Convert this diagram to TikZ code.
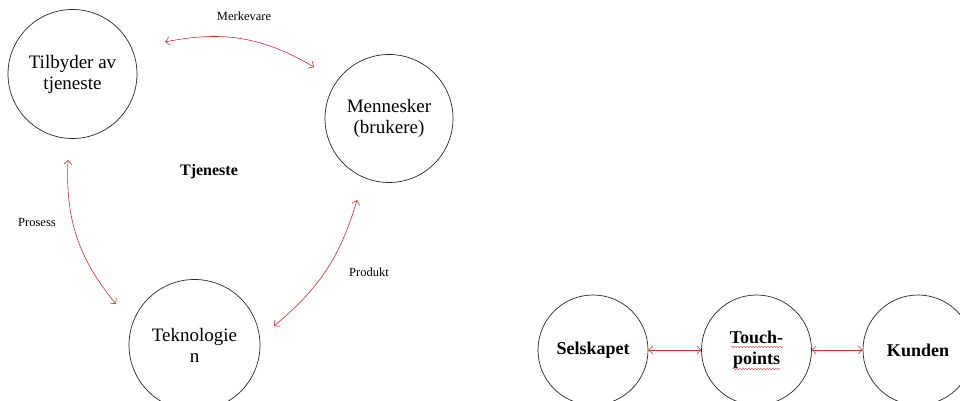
\documentclass[tikz,border=0pt]{standalone}
\usepackage{fontspec}
\setmainfont{Liberation Serif}
\usetikzlibrary{arrows.meta,decorations.pathmorphing}
\definecolor{pilrod}{RGB}{205,45,45}
\begin{document}
\begin{tikzpicture}[x=1pt,y=1pt,
  sirkel/.style={circle,draw=black!85,line width=.7pt,align=center,inner sep=0pt,
    font=\fontsize{19}{21}\selectfont},
  liten/.style={sirkel,minimum size=110pt,font=\fontsize{18}{21}\selectfont\bfseries},
  pil/.style={draw=pilrod,line width=.6pt,
    {Straight Barb[length=4pt,width=8pt]}-{Straight Barb[length=4pt,width=8pt]}},
  etikett/.style={font=\fontsize{12.5}{14}\selectfont},
  krussel/.style={draw=pilrod,line width=.4pt,decorate,
    decoration={snake,amplitude=.6pt,segment length=3pt}}]
\useasboundingbox (0,0) rectangle (960,401);
\clip (0,0) rectangle (960,401);
% tjeneste-trekanten
\node[sirkel,minimum size=129pt] (tilbyder) at (72.5,327) {Tilbyder av\\tjeneste};
\node[sirkel,minimum size=128pt] (mennesker) at (389,282.5) {Mennesker\\(brukere)};
\node[sirkel,minimum size=131pt] (teknologi) at (194.5,56) {Teknologie\\n};
\node[font=\fontsize{16}{18}\selectfont\bfseries] (tjeneste) at (209,229) {Tjeneste};
\coordinate (mk1) at (165,359); \coordinate (mk2) at (314,334);
\coordinate (pr1) at (68,241);  \coordinate (pr2) at (116,97);
\coordinate (pd1) at (357,201); \coordinate (pd2) at (274,75);
\draw[pil] (mk1) to[bend left=21] (mk2);
\draw[pil] (pr1) to[bend right=21] (pr2);
\draw[pil] (pd1) to[bend left=17] (pd2);
\node[etikett] (merkevare) at (244,385) {Merkevare};
\node[etikett] (prosess) at (37,179) {Prosess};
\node[etikett] (produkt) at (369,129) {Produkt};
% touch-points
\node[liten] (selskapet) at (593,51) {Selskapet};
\node[liten] (touch) at (756.5,51) {Touch-\\points};
\node[liten] (kunden) at (918,51) {Kunden};
\draw[pil] (selskapet) -- (touch);
\draw[pil] (touch) -- (kunden);
\draw[krussel] ([xshift=-25.5pt,yshift=3pt]touch.center) -- ++(52,0);
\draw[krussel] ([xshift=-23.5pt,yshift=-19pt]touch.center) -- ++(47,0);
\end{tikzpicture}
\end{document}
